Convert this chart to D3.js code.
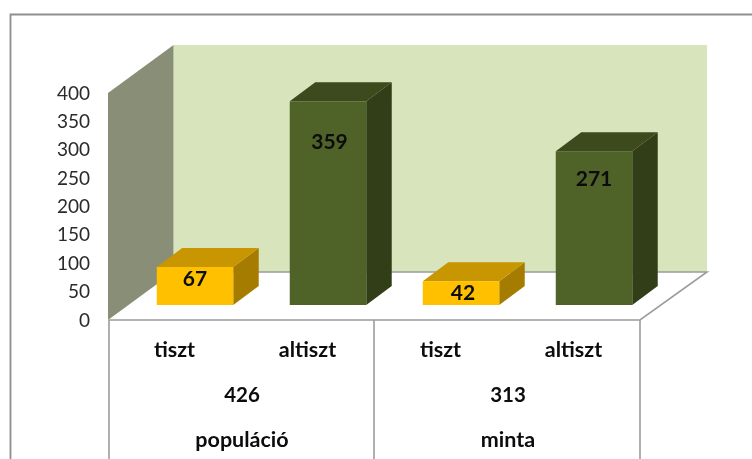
<!DOCTYPE html>
<html>
<head>
<meta charset="utf-8">
<script src="https://cdn.jsdelivr.net/npm/d3@7/dist/d3.min.js"></script>
<style>
html,body{margin:0;padding:0;background:#fff;overflow:hidden}
svg{display:block;filter:blur(0.35px)}
text{font-family:Lato,"Open Sans",sans-serif;fill:#0c0c0c}
</style>
</head>
<body>
<svg id="c" width="752" height="459"></svg>
<script>
// Data
const categories = ["tiszt", "altiszt", "tiszt", "altiszt"];
const values = [67, 359, 42, 271];
const groups = ["426", "313"];
const groupNames = ["populáció", "minta"];
const ticks = [0, 50, 100, 150, 200, 250, 300, 350, 400];
const barColors = ["yellow", "green", "yellow", "green"];

// Layout
const svg = d3.select("#c");
const L = 108, R = 640, Y0 = 320, Y400 = 93;
const depthX = 65.5, depthY = -48;       // wall depth
const offX = 20.5, offY = -15;           // bars' front plane
const bdX = 25.5, bdY = -19;             // bar depth
const palette = {
  yellow: {front: "#ffc000", top: "#c79600", side: "#a67c00"},
  green:  {front: "#4f6228", top: "#3c4a1e", side: "#323e18"}
};
const labelDrop = [11, 39, 10, 26];      // label distance below each bar's top edge
const labelShift = [0, 1.5, 2, 0];

const x = d3.scaleBand().domain(d3.range(categories.length)).range([L, R]).paddingInner(0.425).paddingOuter(0.2125);
const xBand = d3.scaleBand().domain(d3.range(categories.length)).range([L, R]);
const xGroup = d3.scaleBand().domain(d3.range(groups.length)).range([L, R]);
const y = d3.scaleLinear().domain([0, 400]).range([Y0, Y400]);
const pts = a => a.map(p => p.join(",")).join(" ");

// Outer frame
svg.append("path").attr("d", "M10.5,459V14.5H752").attr("fill", "none").attr("stroke", "#8e8e8e").attr("stroke-width", 1.8);

// Walls
svg.append("polygon").attr("fill", "#d7e4bc").attr("points", pts([
  [L + depthX, y(400) + depthY], [R + depthX + 1.5, y(400) + depthY], [R + depthX + 1.5, y(0) + depthY], [L + depthX, y(0) + depthY]]));
svg.append("polygon").attr("fill", "#898f76").attr("points", pts([
  [L, y(400)], [L + depthX, y(400) + depthY], [L + depthX, y(0) + depthY], [L, y(0)]]));

// Floor edges and table lines
const gridColor = "#9c9c9c";
svg.append("path").attr("fill", "none").attr("stroke", gridColor).attr("stroke-width", 1.6)
  .attr("d", `M${L + depthX},${Y0 + depthY}H${R + depthX + 1.5}L${R},${Y0}H${L + 1}`);
svg.append("g").selectAll("line").data([L, (L + R) / 2, R]).join("line")
  .attr("x1", d => d + (d === L ? 1 : 0)).attr("x2", d => d + (d === L ? 1 : 0))
  .attr("y1", Y0).attr("y2", 459).attr("stroke", gridColor).attr("stroke-width", 1.6);

// Axis
const axis = d3.axisLeft(y).tickValues(ticks).tickSize(0).tickPadding(0);
const ax = svg.append("g").attr("transform", "translate(90,0)").call(axis);
ax.select(".domain").remove();
ax.selectAll("text").attr("font-size", 19).style("fill", "#2a2a2a").style("font-family", "Lato");

// Bars
const bars = svg.append("g").selectAll("g").data(values).join("g");
const bx0 = i => x(i) + offX;
bars.append("polygon").attr("fill", (d, i) => palette[barColors[i]].side).attr("points", (d, i) => {
  const a = bx0(i) + x.bandwidth(), t = y(d) + offY, b = y(0) + offY;
  return pts([[a, t], [a + bdX, t + bdY], [a + bdX, b + bdY], [a, b]]);
});
bars.append("polygon").attr("fill", (d, i) => palette[barColors[i]].top).attr("points", (d, i) => {
  const a = bx0(i), w = x.bandwidth(), t = y(d) + offY;
  return pts([[a, t], [a + bdX, t + bdY], [a + w + bdX, t + bdY], [a + w, t]]);
});
bars.append("rect").attr("fill", (d, i) => palette[barColors[i]].front)
  .attr("x", (d, i) => bx0(i)).attr("width", x.bandwidth())
  .attr("y", d => y(d) + offY).attr("height", d => y(0) - y(d));
bars.append("text").attr("text-anchor", "middle").attr("dominant-baseline", "central")
  .attr("font-size", 21).attr("font-weight", 700)
  .attr("x", (d, i) => bx0(i) + x.bandwidth() / 2 + labelShift[i])
  .attr("y", (d, i) => y(d) + offY + labelDrop[i])
  .text(d => d);

// Table labels
const tableText = (sel, size) => sel.attr("text-anchor", "middle").attr("dominant-baseline", "central")
  .attr("font-size", size).attr("font-weight", 700);
svg.append("g").selectAll("text").data(categories).join("text").call(tableText, 21.5)
  .attr("x", (d, i) => xBand(i) + xBand.bandwidth() / 2).attr("y", 349).text(d => d);
svg.append("g").selectAll("text").data(groups).join("text").call(tableText, 20.5)
  .attr("x", (d, i) => xGroup(i) + xGroup.bandwidth() / 2 + 1).attr("y", 394).text(d => d);
svg.append("g").selectAll("text").data(groupNames).join("text").call(tableText, 21.5)
  .attr("x", (d, i) => xGroup(i) + xGroup.bandwidth() / 2 + 1).attr("y", 439).text(d => d);
</script>
</body>
</html>
